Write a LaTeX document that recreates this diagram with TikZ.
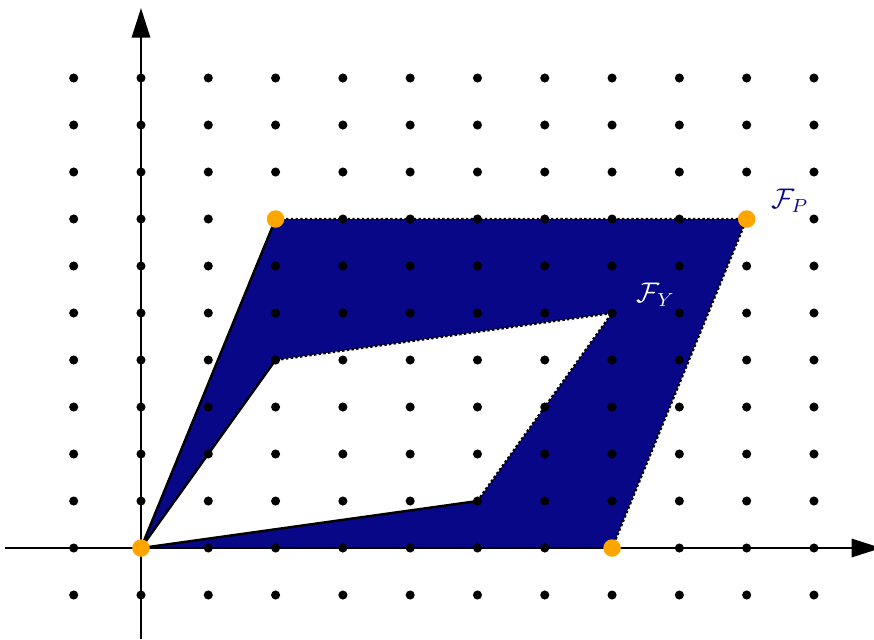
\documentclass[tikz,border=0pt]{standalone}
\usetikzlibrary{arrows.meta}
\definecolor{fpblue}{RGB}{7,7,135}
\definecolor{vorange}{RGB}{255,165,0}
\begin{document}
\begin{tikzpicture}[x=1cm,y=0.6984cm,
  axis/.style={line width=1.1pt,-{Triangle[length=0.44cm,width=0.27cm]}},
  solidedge/.style={line width=1pt,line join=round},
  dotedge/.style={line width=1pt,dash pattern=on 1pt off 1pt},
  latticept/.style={circle,fill=black,inner sep=0pt,minimum size=0.135cm},
  vertexpt/.style={circle,fill=vorange,inner sep=0pt,minimum size=0.26cm}]
\useasboundingbox (-2.095,-1.936) rectangle (10.892,11.66);
% vertices
\coordinate (O) at (0,0);
\coordinate (P1) at (7,0);
\coordinate (P2) at (9,7);
\coordinate (P3) at (2,7);
\coordinate (Y1) at (5,1);
\coordinate (Y2) at (7,5);
\coordinate (Y3) at (2,4);
% axis ends
\coordinate (xl) at (-2.02,0);
\coordinate (xr) at (11.0,0);
\coordinate (yb) at (0,-1.94);
\coordinate (yt) at (0,11.49);
% filled region
\fill[fpblue,even odd rule] (O)--(P1)--(P2)--(P3)--cycle (O)--(Y1)--(Y2)--(Y3)--cycle;
% edges
\draw[solidedge] (P3)--(O)--(Y3);
\draw[solidedge] (O)--(Y1);
\draw[dotedge] (P1)--(P2)--(P3);
\draw[dotedge] (Y1)--(Y2)--(Y3);
% axes
\draw[axis] (xl)--(xr);
\draw[axis] (yb)--(yt);
% lattice points
\foreach \i in {-1,...,10}
  \foreach \j in {-1,...,10}
    \node[latticept] (d\i_\j) at (\i,\j) {};
% vertices of F_P
\node[vertexpt] (vO) at (O) {};
\node[vertexpt] (vP1) at (P1) {};
\node[vertexpt] (vP2) at (P2) {};
\node[vertexpt] (vP3) at (P3) {};
% labels
\node[text=fpblue,font=\large] (lp) at (9.64,7.38) {$\mathcal{F}_P$};
\node[text=white,font=\large] (ly) at (7.65,5.38) {$\mathcal{F}_Y$};
\end{tikzpicture}
\end{document}
